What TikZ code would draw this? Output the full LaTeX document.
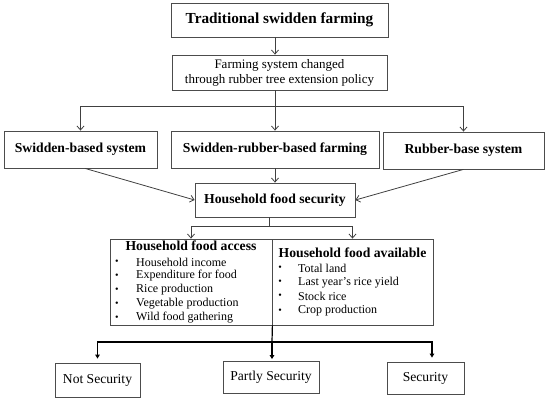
\documentclass[tikz,border=0pt]{standalone}
\usepackage{fontspec}
\setmainfont{Liberation Serif}
\usetikzlibrary{arrows.meta,calc}
\begin{document}
\begin{tikzpicture}[x=1pt,y=-1pt,
  box/.style={draw=black!70,line width=0.8pt,inner sep=0pt,align=center},
  btext/.style={font=\fontsize{13.7}{15}\selectfont\bfseries},
  rtext/.style={font=\fontsize{13}{15}\selectfont},
  stext/.style={font=\fontsize{13.6}{15}\selectfont},
  itm/.style={inner sep=0pt,anchor=west,font=\fontsize{12}{13}\selectfont},
  bul/.style={inner sep=0pt,font=\fontsize{10}{12}\selectfont},
  ln/.style={draw=black!75,line width=0.8pt},
  arr/.style={ln,-{Straight Barb[length=4pt,width=7pt]}},
  lnb/.style={draw=black,line width=1.2pt},
  arrb/.style={lnb,-{Triangle[length=4pt,width=4.5pt]}}
]
\useasboundingbox (0,0) rectangle (550,401);

\node[box,minimum width=217,minimum height=34,font=\fontsize{15.3}{17}\selectfont\bfseries] (b1) at (279.5,20) {Traditional swidden farming};
\node[box,rtext,minimum width=215,minimum height=35] (b2) at (279.5,72.5) {Farming system changed\\through rubber tree extension policy};

\node[box,btext,minimum width=153,minimum height=37] (bA) at (80.5,149.5) {Swidden-based system};
\node[box,btext,minimum width=208,minimum height=37] (bB) at (275,149.5) {Swidden-rubber-based farming};
\node[box,btext,minimum width=161,minimum height=37] (bC) at (463.5,150.5) {Rubber-base system};

\node[box,btext,minimum width=160,minimum height=34] (hfs) at (275,200) {Household food security};

% food access / available
\node[box,minimum width=162,minimum height=86] (fa) at (191,282) {};
\node[box,minimum width=161,minimum height=86] (fv) at (352.5,282) {};
\node[inner sep=0pt,btext] (fah) at (191,246) {Household food access};
\node[inner sep=0pt,btext] (fvh) at (352.5,253) {Household food available};
\foreach \t [count=\i] in {Household income,Expenditure for food,Rice production,Vegetable production,Wild food gathering}{
  \node[bul] (ba\i) at (117,{248+14*\i}) {•};
  \node[itm] (ia\i) at (136,{248+14*\i}) {\t};
}
\foreach \t [count=\i] in {Total land,Last year’s rice yield,Stock rice,Crop production}{
  \node[bul] (bv\i) at (280,{253.5+14.4*\i}) {•};
  \node[itm] (iv\i) at (298,{253.5+14.4*\i}) {\t};
}

\node[box,stext,minimum width=85,minimum height=34] (ns) at (97.5,380) {Not Security};
\node[box,stext,minimum width=96,minimum height=32] (ps) at (271,377) {Partly Security};
\node[box,stext,minimum width=77,minimum height=32] (sc) at (425.5,378) {Security};

% connectors
\coordinate (s1) at (275,106.5);
\draw[arr] (b1.south -| s1) -- (b2.north -| s1);
\draw[ln] (b2.south -| s1) -- (s1);
\draw[arr] (s1) -| (bA.north);
\draw[arr] (s1) -| (bC.north);
\draw[arr] (s1) -- (bB.north);
\draw[arr] (bB.south) -- (hfs.north);
\draw[arr] ($(bA.south)+(4.5,0)$) -- (hfs.west);
\draw[arr] (bC.south) -- (hfs.east);

\coordinate (s2) at (269,226);
\draw[ln] (hfs.south -| s2) -- (s2);
\draw[arr] (s2) -| (fa.north);
\draw[arr] (s2) -| (fv.north);

\coordinate (s3) at (272,342);
\coordinate (sct) at (432,342);
\draw[lnb] (fa.south east) -- (s3);
\draw[arrb,shorten >=4pt] (s3) -| (ns.north);
\draw[arrb,shorten >=4pt] (s3) -- (sct) -- (sct |- sc.north);
\draw[arrb,shorten >=1.5pt] (s3) -- (s3 |- ps.north);
\end{tikzpicture}
\end{document}
